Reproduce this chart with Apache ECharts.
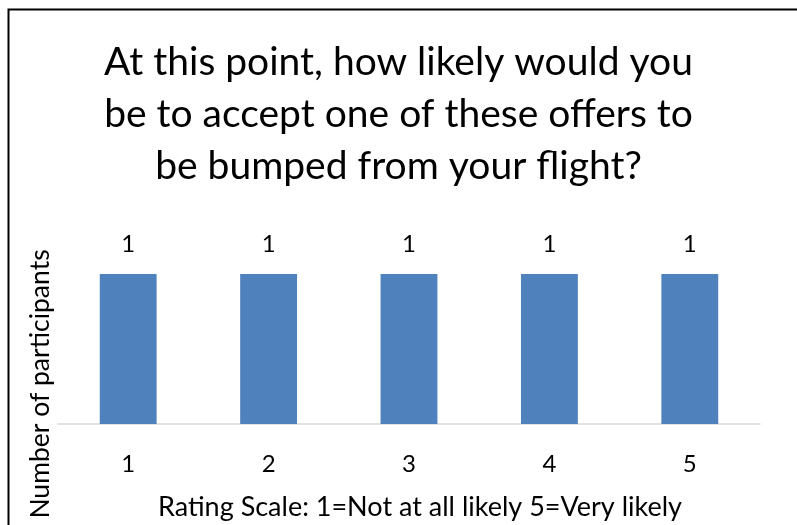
<!DOCTYPE html>
<html>
<head>
<meta charset="utf-8">
<script src="https://cdn.jsdelivr.net/npm/echarts@6/dist/echarts.min.js"></script>
<style>
html, body { margin: 0; padding: 0; background: #fff; }
#chart { width: 797px; height: 525px; }
</style>
</head>
<body>
<div id="chart"></div>
<script>
// Survey responses per rating
const categories = ['1', '2', '3', '4', '5'];
const participants = [1, 1, 1, 1, 1];

const titleText = 'At this point, how likely would you\nbe to accept one of these offers to\nbe bumped from your flight?';
const xAxisName = 'Rating Scale: 1=Not at all likely 5=Very likely';
const yAxisName = 'Number of participants';

const fontFamily = 'Lato, "Open Sans", sans-serif';

const chart = echarts.init(document.getElementById('chart'), null, { renderer: 'canvas' });

chart.setOption({
  backgroundColor: '#fff',
  animation: false,
  title: {
    text: titleText,
    left: 'center',
    top: 31,
    textStyle: {
      fontFamily: fontFamily,
      fontSize: 39,
      fontWeight: 'normal',
      color: '#000',
      lineHeight: 52
    }
  },
  graphic: [
    {
      type: 'rect',
      shape: { x: 8.5, y: 9.5, width: 900, height: 700 },
      style: { fill: 'none', stroke: '#000', lineWidth: 2 },
      silent: true
    },
    {
      type: 'text',
      x: 40,
      y: 384,
      rotation: Math.PI / 2,
      style: {
        text: yAxisName,
        fontFamily: fontFamily,
        fontSize: 26.5,
        fill: '#000',
        align: 'center',
        verticalAlign: 'middle'
      }
    }
  ],
  grid: {
    left: 58,
    right: 37,
    top: 274,
    bottom: 101
  },
  xAxis: {
    type: 'category',
    data: categories,
    name: xAxisName,
    nameLocation: 'middle',
    nameGap: 70,
    nameTextStyle: {
      fontFamily: fontFamily,
      fontSize: 27,
      color: '#000',
      padding: [0, 0, 0, 22]
    },
    axisLine: { lineStyle: { color: '#d9d9d9', width: 1.5 } },
    axisTick: { show: false },
    axisLabel: {
      margin: 28,
      fontFamily: fontFamily,
      fontSize: 24,
      color: '#000'
    }
  },
  yAxis: {
    type: 'value',
    min: 0,
    max: 1,
    show: false,
    splitLine: { show: false }
  },
  series: [
    {
      type: 'bar',
      data: participants,
      barWidth: '40.5%',
      itemStyle: { color: '#4f81bd' },
      label: {
        show: true,
        position: 'top',
        distance: 18,
        fontFamily: fontFamily,
        fontSize: 24,
        color: '#000'
      }
    }
  ]
});
</script>
</body>
</html>
